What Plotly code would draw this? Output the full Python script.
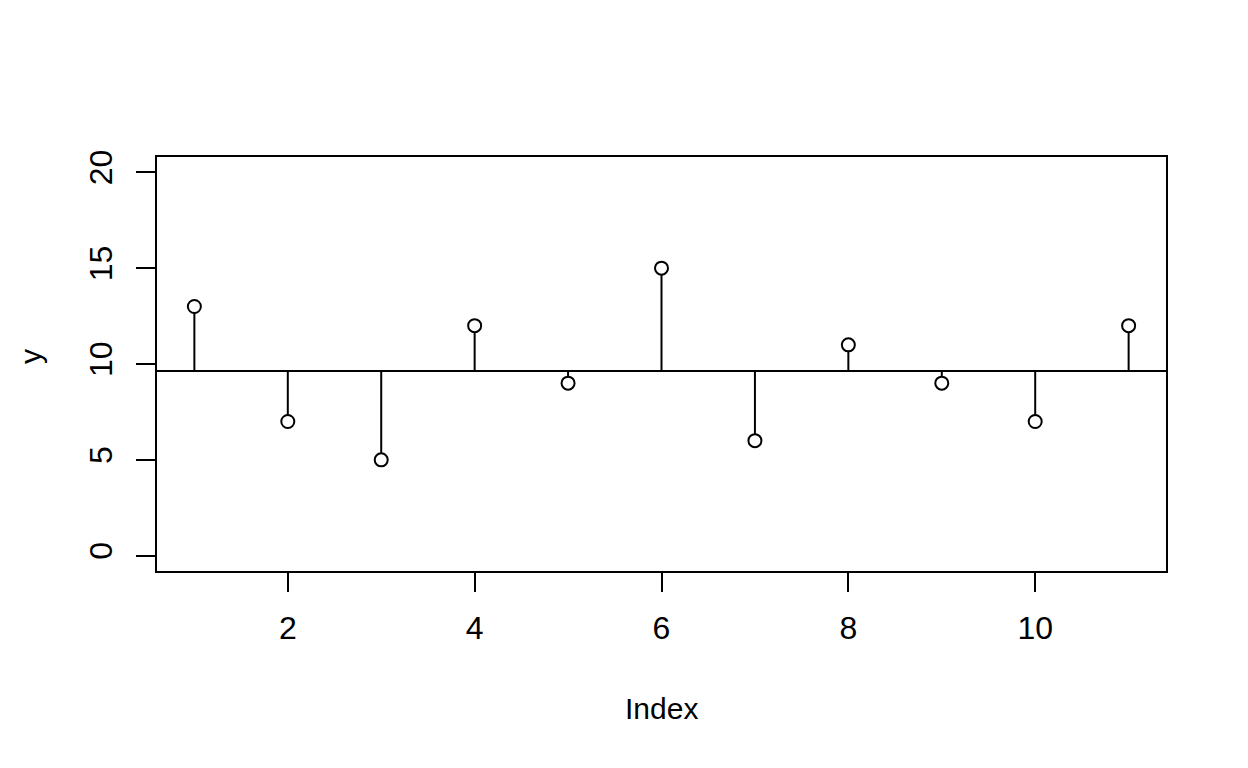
import plotly.graph_objects as go

index = list(range(1, 12))
y = [13, 7, 5, 12, 9, 15, 6, 11, 9, 7, 12]
mean_y = sum(y) / len(y)
x_ticks = [2, 4, 6, 8, 10]
y_ticks = [0, 5, 10, 15, 20]

fig = go.Figure()

# vertical segments from mean to each point
seg_x, seg_y = [], []
for xi, yi in zip(index, y):
    seg_x += [xi, xi, None]
    seg_y += [mean_y, yi, None]
fig.add_trace(go.Scatter(x=seg_x, y=seg_y, mode="lines",
                         line=dict(color="black", width=2), hoverinfo="skip",
                         showlegend=False))
# horizontal mean line
fig.add_trace(go.Scatter(x=[0.6, 11.4], y=[mean_y, mean_y], mode="lines",
                         line=dict(color="black", width=2), showlegend=False))
# points
fig.add_trace(go.Scatter(x=index, y=y, mode="markers",
                         marker=dict(symbol="circle", size=13, color="white",
                                     line=dict(color="black", width=2)),
                         showlegend=False))

tick_font = dict(family="Liberation Sans, Arial, sans-serif", size=32, color="black")
title_font = dict(family="Liberation Sans, Arial, sans-serif", size=30, color="black")

L, R, T, B = 157, 82, 157, 197
fig.update_layout(
    width=1248, height=768,
    margin=dict(l=L, r=R, t=T, b=B),
    plot_bgcolor="white", paper_bgcolor="white",
    font=title_font,
    xaxis=dict(range=[0.6, 11.4], tickvals=x_ticks, ticks="outside", ticklen=19,
               tickwidth=2, tickcolor="black", showgrid=False, zeroline=False,
               showline=True, linecolor="black", linewidth=2, mirror=True,
               ticklabelstandoff=9, tickfont=tick_font),
    yaxis=dict(range=[-0.8, 20.8], tickvals=y_ticks, ticks="outside", ticklen=19,
               tickwidth=2, tickcolor="black", showgrid=False, zeroline=False,
               showline=True, linecolor="black", linewidth=2, mirror=True,
               tickangle=-90, ticklabelstandoff=11, tickfont=tick_font),
)
pw, ph = 1248 - L - R, 768 - T - B
fig.add_annotation(text="Index", x=(661 - L) / pw, y=(571 - 708) / ph,
                   xref="paper", yref="paper", xanchor="center", yanchor="middle",
                   showarrow=False, font=title_font)
fig.add_annotation(text="y", x=(30 - L) / pw, y=(571 - 357) / ph,
                   xref="paper", yref="paper", xanchor="center", yanchor="middle",
                   showarrow=False, font=title_font, textangle=-90)

fig.write_html("out.html", config={"displayModeBar": False},
               post_script="document.body.style.margin='0';")
